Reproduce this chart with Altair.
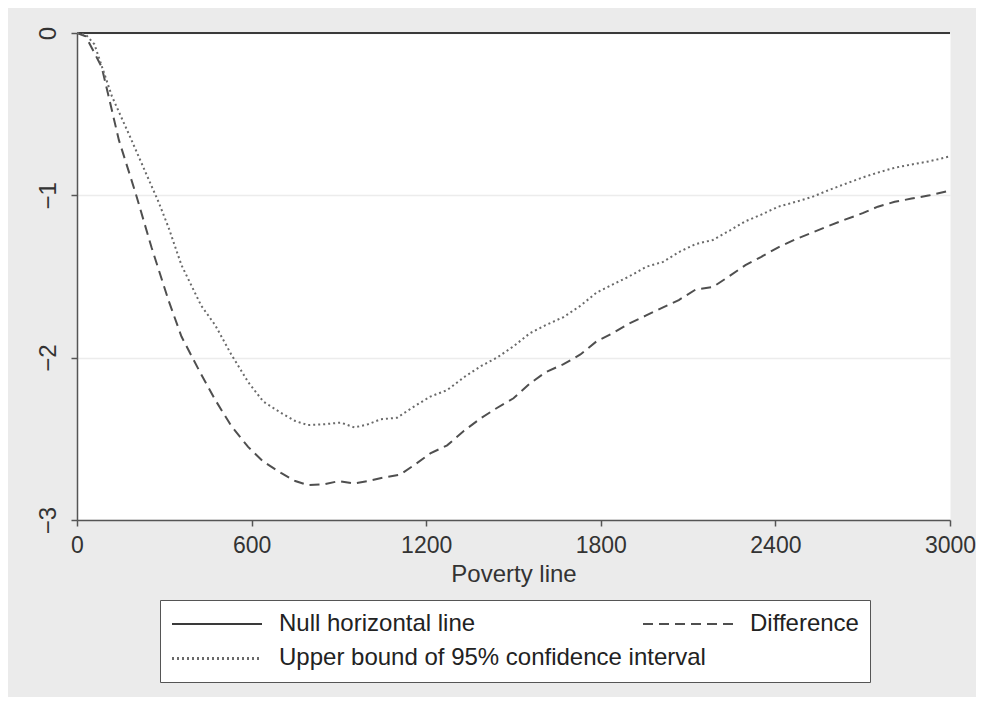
import altair as alt
import pandas as pd

FONT = "Liberation Sans, Arial, Helvetica, sans-serif"

SERIES = ["Null horizontal line", "Difference", "Upper bound of 95% confidence interval"]
COLORS = ["#3a3a3a", "#4f4f4f", "#6a6a6a"]
DASHES = [[1, 0], [10, 6], [2, 3]]

X_TICKS = [0, 600, 1200, 1800, 2400, 3000]
Y_TICKS = [-3, -2, -1, 0]

null_x = [0, 3000]
null_y = [0, 0]

diff_x = [0, 30, 85, 144, 202, 256, 315, 359, 420, 475, 530, 588, 640, 701, 750,
          793, 850, 900, 950, 1000, 1050, 1111, 1160, 1214, 1272, 1330, 1390, 1443,
          1500, 1556, 1610, 1672, 1730, 1785, 1840, 1897, 1956, 2014, 2068, 2126,
          2185, 2240, 2297, 2350, 2410, 2470, 2526, 2580, 2639, 2700, 2752, 2810,
          2868, 2930, 3000]
diff_y = [0, -0.02, -0.21, -0.66, -0.99, -1.32, -1.65, -1.87, -2.08, -2.26, -2.42,
          -2.55, -2.64, -2.71, -2.76, -2.785, -2.78, -2.76, -2.775, -2.76, -2.74,
          -2.72, -2.66, -2.59, -2.54, -2.45, -2.37, -2.31, -2.25, -2.16, -2.09,
          -2.04, -1.98, -1.90, -1.85, -1.79, -1.74, -1.69, -1.645, -1.58, -1.565,
          -1.50, -1.43, -1.38, -1.32, -1.27, -1.23, -1.19, -1.15, -1.11, -1.07,
          -1.04, -1.02, -1.00, -0.97]

upper_x = [0, 30, 60, 120, 180, 236, 280, 315, 359, 427, 475, 530, 588, 640, 701,
           750, 793, 850, 906, 954, 1000, 1043, 1100, 1159, 1214, 1272, 1330, 1390,
           1443, 1500, 1556, 1610, 1672, 1730, 1785, 1840, 1897, 1956, 2014, 2068,
           2126, 2185, 2240, 2297, 2350, 2410, 2470, 2526, 2580, 2639, 2700, 2752,
           2810, 2868, 2930, 3000]
upper_y = [0, -0.01, -0.07, -0.39, -0.63, -0.86, -1.04, -1.20, -1.43, -1.68, -1.80,
           -1.98, -2.15, -2.27, -2.34, -2.39, -2.415, -2.41, -2.40, -2.43, -2.41,
           -2.38, -2.37, -2.30, -2.24, -2.20, -2.12, -2.05, -2.00, -1.93, -1.85,
           -1.80, -1.75, -1.68, -1.60, -1.55, -1.50, -1.44, -1.41, -1.35, -1.30,
           -1.275, -1.22, -1.16, -1.12, -1.07, -1.04, -1.01, -0.97, -0.93, -0.89,
           -0.86, -0.83, -0.81, -0.79, -0.76]

rows = []
for name, xs, ys in [(SERIES[0], null_x, null_y),
                     (SERIES[1], diff_x, diff_y),
                     (SERIES[2], upper_x, upper_y)]:
    for xv, yv in zip(xs, ys):
        rows.append({"x": xv, "y": yv, "series": name, "series_label": name})
df = pd.DataFrame(rows)

# long horizontal stroke as a custom legend symbol (unit box scaled by sqrt(size)/2)
LEGEND_SYMBOL = "M-3.75,0H3.75"
common = dict(
    title=None, orient="none", symbolType=LEGEND_SYMBOL, symbolSize=576,
    symbolOffset=33, symbolStrokeWidth=2, labelFont=FONT, labelFontSize=24,
    labelColor="#222222", labelOffset=49, labelLimit=700,
)

# main boxed legend (Stata style: two columns; the long third label comes from the overlay legend)
legend_main = alt.Legend(
    legendX=83, legendY=567, direction="horizontal", columns=2, gridAlign="each",
    columnPadding=163, rowPadding=10, fillColor="white", strokeColor="#555555",
    padding=11,
    labelExpr=f"datum.label === '{SERIES[2]}' ? '' : datum.label",
    **common,
)
# overlay legend carrying the long label of the second row
legend_row2 = alt.Legend(
    legendX=94, legendY=612, values=[SERIES[2]], padding=0,
    symbolStrokeColor=COLORS[2], symbolDash=DASHES[2],
    **common,
)

# a differently ordered domain keeps this legend separate from the main one
OPACITY_DOMAIN = [SERIES[2], SERIES[0], SERIES[1]]

chart = alt.Chart(df).mark_line(strokeWidth=2).encode(
    x=alt.X("x:Q", scale=alt.Scale(domain=[0, 3000], nice=False, zero=False),
            axis=alt.Axis(values=X_TICKS, format="d", title="Poverty line", grid=False,
                          labelFlush=False, labelOverlap=False, labelFontSize=23,
                          tickSize=6, labelPadding=8, titlePadding=5)),
    y=alt.Y("y:Q", scale=alt.Scale(domain=[-3, 0], nice=False, zero=False),
            axis=alt.Axis(values=Y_TICKS, format="d", title=None, grid=True,
                          gridColor="#ececec", gridWidth=1.5, labelAngle=270,
                          labelAlign="center", labelBaseline="alphabetic",
                          labelFlush=False, labelOverlap=False, tickSize=6,
                          labelPadding=16)),
    color=alt.Color("series:N", scale=alt.Scale(domain=SERIES, range=COLORS),
                    legend=legend_main),
    strokeDash=alt.StrokeDash("series:N", scale=alt.Scale(domain=SERIES, range=DASHES),
                              legend=legend_main),
    opacity=alt.Opacity("series_label:N",
                        scale=alt.Scale(domain=OPACITY_DOMAIN, range=[1, 1, 1]),
                        legend=legend_row2),
).properties(
    width=873, height=487,
    autosize=alt.AutoSizeParams(type="none"),
    padding={"left": 69, "top": 25, "right": 26, "bottom": 177},
).configure(
    background="#ebebeb",
    font=FONT,
).configure_view(
    fill="white", stroke="transparent",
).configure_axis(
    domainColor="#555555", domainWidth=1.5, tickColor="#555555", tickWidth=1.5,
    labelFont=FONT, labelFontSize=24, labelColor="#333333",
    titleFont=FONT, titleFontSize=24, titleFontWeight="normal", titleColor="#333333",
)

chart.save("out.html", embed_options={"renderer": "svg", "actions": False})
